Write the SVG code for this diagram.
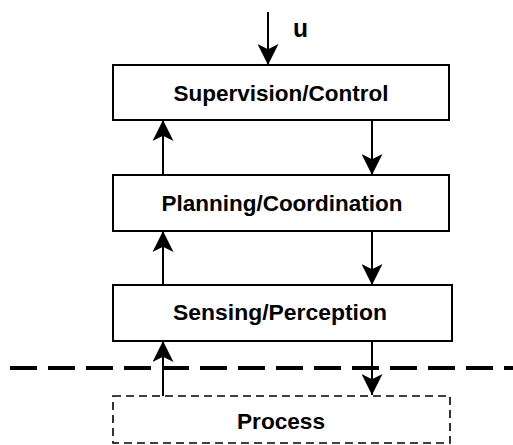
<svg xmlns="http://www.w3.org/2000/svg" width="513" height="445" viewBox="0 0 513 445">
<style>
.box{fill:#fff;stroke:#000;stroke-width:2}
.proc{fill:#fff;stroke:#000;stroke-width:1.6;stroke-dasharray:8 5}
.lbl{font-family:"Liberation Sans",Arial,sans-serif;font-weight:bold;font-size:21.5px;fill:#000;text-anchor:middle}
.wire{stroke:#000;stroke-width:2;fill:none;marker-end:url(#ah)}
</style>
<defs>
<marker id="ah" viewBox="0 0 20 20" refX="20" refY="10" markerWidth="21" markerHeight="21" markerUnits="userSpaceOnUse" orient="auto">
<path d="M20,10 L0,0 L5,10 L0,20 Z" fill="#000"/>
</marker>
</defs>
<rect width="513" height="445" fill="#fff"/>
<line x1="10" y1="368" x2="513" y2="368" stroke="#000" stroke-width="4" stroke-dasharray="27 11"/>
<g id="supervision">
<rect class="box" x="113" y="65" width="336" height="55"/>
<text class="lbl" x="281" y="101" textLength="215" lengthAdjust="spacingAndGlyphs">Supervision/Control</text>
</g>
<g id="planning">
<rect class="box" x="113" y="175" width="336" height="56"/>
<text class="lbl" x="282" y="211" textLength="241" lengthAdjust="spacingAndGlyphs">Planning/Coordination</text>
</g>
<g id="sensing">
<rect class="box" x="113" y="285" width="339" height="56"/>
<text class="lbl" x="280" y="320" textLength="214" lengthAdjust="spacingAndGlyphs">Sensing/Perception</text>
</g>
<g id="process">
<rect class="proc" x="113" y="396" width="337" height="47"/>
<text class="lbl" x="281" y="429" textLength="88" lengthAdjust="spacingAndGlyphs">Process</text>
</g>
<g id="connectors">
<line class="wire" x1="268" y1="12" x2="268" y2="65"/>
<line class="wire" x1="163" y1="175" x2="163" y2="120"/>
<line class="wire" x1="372" y1="120" x2="372" y2="175"/>
<line class="wire" x1="163" y1="285" x2="163" y2="231"/>
<line class="wire" x1="372" y1="231" x2="372" y2="285"/>
<line class="wire" x1="163" y1="396" x2="163" y2="341"/>
<line class="wire" x1="372" y1="341" x2="372" y2="395"/>
</g>
<text x="293" y="37" font-family="'Liberation Sans',Arial,sans-serif" font-weight="bold" font-size="26" fill="#000" textLength="15" lengthAdjust="spacingAndGlyphs">u</text>
</svg>
